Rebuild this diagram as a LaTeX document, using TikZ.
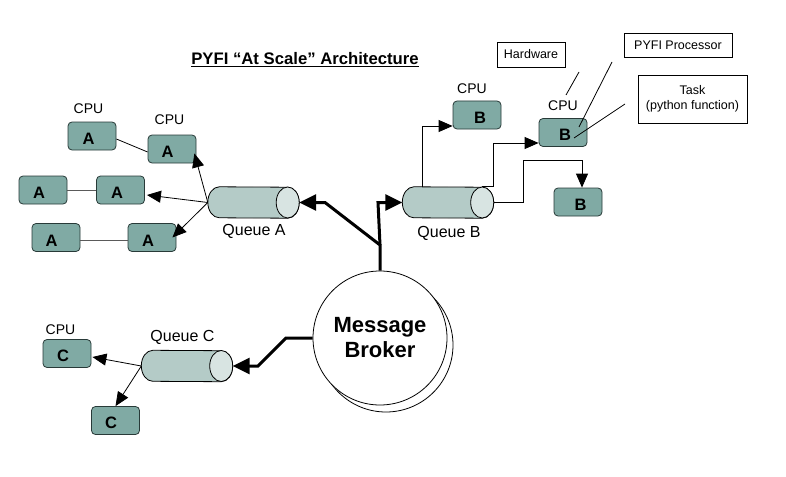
\documentclass[tikz,border=0pt]{standalone}
\usepackage{fontspec}
\setmainfont{Liberation Sans}
\usetikzlibrary{arrows.meta,calc}
\definecolor{boxfill}{RGB}{128,170,164}
\definecolor{boxline}{RGB}{40,58,56}
\definecolor{qbody}{RGB}{180,203,199}
\definecolor{qend}{RGB}{216,228,226}
\definecolor{linkgray}{RGB}{90,90,90}
\newcommand{\queuedraw}[1]{%
  \draw[fill=qbody, line width=0.8pt] ([xshift=11.5pt]#1.north west)
    arc[start angle=90,end angle=270,x radius=11.5pt,y radius=15.5pt]
    -- ([xshift=-11.5pt]#1.south east)
    arc[start angle=-90,end angle=90,x radius=11.5pt,y radius=15.5pt] -- cycle;
  \draw[fill=qend, line width=0.8pt] ([xshift=-11.5pt]#1.east) ellipse[x radius=11.5pt,y radius=15.5pt];
}
\begin{document}
\begin{tikzpicture}[x=1pt,y=1pt,
  cpubox/.style={draw=boxline, fill=boxfill, rounded corners=4pt, minimum width=48pt, minimum height=28pt, inner sep=0pt, line width=0.8pt},
  lettr/.style={inner sep=0pt, font=\fontsize{16.5}{18}\selectfont\bfseries},
  lbl/.style={inner sep=0pt, font=\fontsize{14}{16}\selectfont},
  qlbl/.style={inner sep=0pt, font=\fontsize{16}{18}\selectfont},
  note/.style={draw, fill=white, inner sep=0pt, line width=0.8pt, align=center, font=\fontsize{12.5}{15}\selectfont},
  qshape/.style={minimum width=91pt, minimum height=31pt, inner sep=0pt},
  thinarrow/.style={-{Triangle[length=14pt,width=12pt]}, line width=0.8pt},
  fatarrow/.style={-{Triangle[length=17pt,width=16pt]}, line width=3pt},
  link/.style={line width=0.8pt},
  graylink/.style={line width=1pt, draw=linkgray}
]
\useasboundingbox (0,0) rectangle (786,-476);

% title
\node[inner sep=0pt, font=\fontsize{16.7}{19}\selectfont\bfseries] (title) at (305,-60) {\underline{PYFI “At Scale” Architecture}};

% queues
\node[qshape] (qA) at (253.5,-202.5) {};
\node[qshape] (qB) at (448,-202.5) {};
\node[qshape] (qC) at (187,-366) {};
\queuedraw{qA}
\queuedraw{qB}
\queuedraw{qC}
\node[qlbl] (qAl) at (254,-231) {Queue A};
\node[qlbl] (qBl) at (449,-233) {Queue B};
\node[qlbl] (qCl) at (182.5,-337) {Queue C};

% A boxes
\node[cpubox, label={[lettr, xshift=-3.5pt, yshift=-3pt]center:A}] (A1) at (92,-136) {};
\node[cpubox, label={[lettr, xshift=-4.5pt, yshift=-3pt]center:A}] (A2) at (172,-149) {};
\node[cpubox, label={[lettr, xshift=-4pt, yshift=-3pt]center:A}] (A3) at (43,-190) {};
\node[cpubox, label={[lettr, xshift=-3.5pt, yshift=-3pt]center:A}] (A4) at (120.5,-190) {};
\node[cpubox, label={[lettr, xshift=-4.5pt, yshift=-3pt]center:A}] (A5) at (56,-237.5) {};
\node[cpubox, label={[lettr, xshift=-4pt, yshift=-3pt]center:A}] (A6) at (152,-237.5) {};
\node[lbl] (cA1) at (88.5,-109) {CPU};
\node[lbl] (cA2) at (169.5,-120) {CPU};

% B boxes
\node[cpubox, label={[lettr, xshift=3pt, yshift=-3pt]center:B}] (B1) at (477,-115) {};
\node[cpubox, label={[lettr, xshift=2pt, yshift=-2.5pt]center:B}] (B2) at (563,-132.5) {};
\node[cpubox, label={[lettr, xshift=2.5pt, yshift=-2.5pt]center:B}] (B3) at (578,-202) {};
\node[lbl] (cB1) at (472,-89) {CPU};
\node[lbl] (cB2) at (563,-106) {CPU};

% C boxes
\node[cpubox, label={[lettr, xshift=-4pt, yshift=-2.5pt]center:C}] (C1) at (67,-353.5) {};
\node[cpubox, label={[lettr, xshift=-4.5pt, yshift=-2.5pt]center:C}] (C2) at (115.5,-420.5) {};
\node[lbl] (cC1) at (60.5,-330) {CPU};

% notes
\node[note, minimum width=68pt, minimum height=25pt] (hw) at (531,-54.5) {Hardware};
\node[note, minimum width=108pt, minimum height=24pt] (proc) at (678,-45) {PYFI Processor};
\node[note, minimum width=109pt, minimum height=48pt] (task) at (692.5,-99) {Task\\(python function)};
\coordinate (h1) at (579,-72);
\coordinate (h2) at (566,-95);
\coordinate (p1) at (612,-62);
\coordinate (p2) at (579,-127);
\coordinate (t1) at (625,-104);
\coordinate (t2) at (574,-138);
\draw[link] (h1) -- (h2);
\draw[link] (p1) -- (p2);
\draw[link] (t1) -- (t2);

% broker
\node[circle, draw, fill=white, line width=0.8pt, minimum size=134pt, inner sep=0pt] (brokerback) at (386,-345) {};
\node[circle, draw, fill=white, line width=0.8pt, minimum size=134pt, inner sep=0pt, align=center, font=\fontsize{22}{25}\selectfont\bfseries] (broker) at (380,-338) {Message\\Broker};

% A links
\draw[link] ([yshift=-3pt]A1.east) -- ([yshift=-3pt]A2.west);
\draw[graylink] (A3.east) -- (A4.west);
\draw[graylink] ([yshift=-2.5pt]A5.east) -- ([yshift=-2.5pt]A6.west);
\draw[thinarrow] (qA.west) -- ([shift={(-2pt,10pt)}]A2.south east);
\draw[thinarrow] (qA.west) -- ([shift={(2pt,-5pt)}]A4.east);
\draw[thinarrow] (qA.west) -- ([xshift=-4pt]A6.east);

% B links
\draw[thinarrow] ([xshift=-26pt]qB.north) |- ([yshift=-11pt]B1.west);
\draw[thinarrow] ([xshift=-11.5pt]qB.north east) -- (qB.north east) |- ([yshift=-10.5pt]B2.west);
\draw[thinarrow] (qB.east) -- ++(30pt,0) |- ([shift={(4pt,27pt)}]B3.north) -- ([xshift=4pt]B3.north);

% C links
\draw[thinarrow] (qC.west) -- ([shift={(1pt,-3.5pt)}]C1.east);
\draw[thinarrow] (qC.west) -- (C2.north);

% broker links
\coordinate (j) at (380,-245);
\coordinate (ja) at (325,-202.5);
\coordinate (jb) at (378,-202.5);
\coordinate (jc1) at (286,-338);
\coordinate (jc2) at (258,-366);
\draw[fatarrow] (broker.north) -- (j) -- (ja) -- (qA.east);
\draw[fatarrow] (j) -- (jb) -- (qB.west);
\draw[fatarrow] (broker.west) -- (jc1) -- (jc2) -- (qC.east);
\end{tikzpicture}
\end{document}
